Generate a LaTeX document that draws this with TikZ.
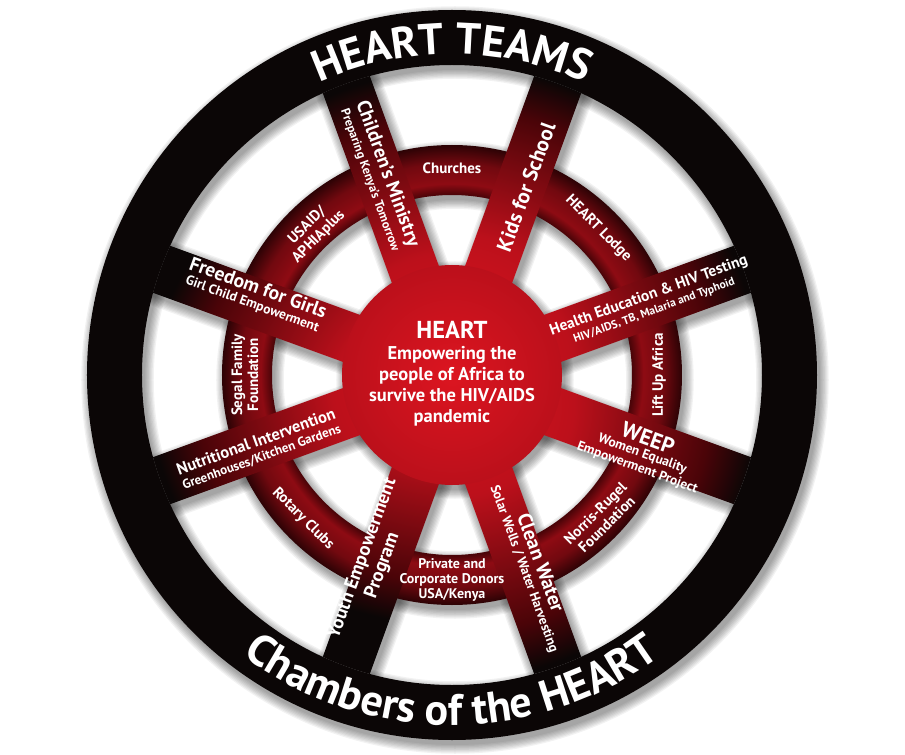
\documentclass[tikz,border=0pt]{standalone}
\usepackage{fontspec}
\setmainfont{PT Sans}
\usepackage{xcolor}
\definecolor{hubRed}{HTML}{DC1520}
\definecolor{spokeRed}{HTML}{BC101B}
\definecolor{ringRed}{HTML}{8E0B13}
\definecolor{deepRed}{HTML}{4A0408}
\definecolor{rimBlack}{HTML}{0B0606}
\usepackage{tikz}
\usetikzlibrary{decorations.text}

% 25bp of a shading = half the size of the shaded path
\pgfdeclareradialshading{heartglow}{\pgfpoint{0bp}{0bp}}{%
  color(0bp)=(hubRed); color(8.7bp)=(spokeRed); color(14.5bp)=(ringRed!85!black);
  color(18.5bp)=(deepRed); color(21.8bp)=(rimBlack); color(50bp)=(rimBlack)}
\pgfdeclareradialshading{ringglow}{\pgfpoint{0bp}{0bp}}{%
  color(0bp)=(ringRed); color(19.6bp)=(deepRed); color(20.8bp)=(ringRed);
  color(23bp)=(ringRed!80!black); color(25bp)=(deepRed!60!black); color(50bp)=(deepRed!60!black)}

\newcommand\hrBig[1]{\fontsize{#1}{#1}\selectfont}

\begin{document}
\begin{tikzpicture}[x=1pt, y=1pt,
    every node/.style={text=white, font=\bfseries},
    spoke/.style={align=center, inner sep=0pt},
    ringlbl/.style={align=center, inner sep=0pt, font=\bfseries\fontsize{15}{16}\selectfont},
    hubtxt/.style={align=center, inner sep=0pt, font=\bfseries\fontsize{18.5}{21}\selectfont},
    glow/.style={shading=heartglow},
    softshade/.style={black, opacity=0.05},
    rimtext/.style={decorate, decoration={text along path, text align=center,
                    text={|\fontsize{44}{44}\selectfont\bfseries\color{white}|#1}}}]
  \useasboundingbox (-452,-380) rectangle (453,375);
  \fill[white] (-452,-380) rectangle (453,375);

  % soft shadow under the wheel
  \begin{scope}[shift={(3,-5)}]
    \foreach \k in {0,...,7} {
      \draw[softshade, line width={(55+2.5*\k)*1pt}] (0,0) circle (337.5);
      \draw[softshade, line width={(50+2.5*\k)*1pt}] (0,0) circle (205);
      \foreach \ang in {20,70,110,160}
        \draw[softshade, line width={(50+2.5*\k)*1pt}] (\ang:-320) -- (\ang:320);
      \fill[softshade] (0,0) circle ({110+1.25*\k});
    }
  \end{scope}

  % red ring, spokes and hub
  \shade[shading=ringglow, even odd rule] (0,0) circle (230) (0,0) circle (180);
  \foreach \ang in {20,70,110,160} {
    \begin{scope}[rotate=\ang]
      \clip (-312,-25) rectangle (312,25);
      \shade[glow] (0,0) circle (310);
    \end{scope}
  }
  \begin{scope}
    \clip (0,0) circle (110);
    \shade[glow] (0,0) circle (310);
  \end{scope}

  % outer rim
  \fill[rimBlack, even odd rule] (0,0) circle (365) (0,0) circle (310);
  \path[rimtext={HEART TEAMS}] (125:321) arc[start angle=125, end angle=55, radius=321];
  \path[rimtext={Chambers of the HEART}] (210:350) arc[start angle=210, end angle=330, radius=350];

  % hub
  \node[hubtxt] (hub) at (0,1) {\hrBig{24.5}HEART\\Empowering the\\people of Africa to\\survive the HIV/AIDS\\pandemic};

  % spoke labels
  \node[spoke, rotate=-70] (childMin) at (110:211)
    {\hrBig{19.5}Children’s Ministry\\[3pt]\hrBig{12.5}Preparing Kenya’s Tomorrow};
  \node[spoke, rotate=70] (kidsSchool) at (68.5:202)
    {\hrBig{21}Kids for School};
  \node[spoke, rotate=20] (healthEd) at (20:212)
    {\hrBig{15.5}Health Education \& HIV Testing\\[3pt]\hrBig{11.5}HIV/AIDS, TB, Malaria and Typhoid};
  \node[spoke, rotate=-20] (freedom) at (158:212)
    {\hrBig{19.5}Freedom for Girls\\[3pt]\hrBig{13.5}Girl Child Empowerment};
  \node[spoke, rotate=20] (nutrition) at (201:207)
    {\hrBig{16.5}Nutritional Intervention\\[3pt]\hrBig{13}Greenhouses/Kitchen Gardens};
  \node[spoke, rotate=-20] (weep) at (338:206)
    {\hrBig{22}WEEP\\[1pt]\hrBig{13.5}Women Equality\\[1.5pt]\hrBig{13.5}Empowerment Project};
  \node[spoke, rotate=70] (youth) at (247:203)
    {\hrBig{19}Youth Empowerment\\[3pt]\hrBig{19}Program};
  \node[spoke, rotate=-70] (cleanWater) at (293:207)
    {\hrBig{20}Clean Water\\[3pt]\hrBig{13.5}Solar Wells / Water Harvesting};

  % ring labels
  \node[ringlbl] (churches) at (90:207) {Churches};
  \node[ringlbl, rotate=-45] (lodge) at (45:207) {HEART Lodge};
  \node[ringlbl, rotate=90] (liftUp) at (0:207) {Lift Up Africa};
  \node[ringlbl, rotate=45] (norris) at (-44:207) {Norris-Rugel\\Foundation};
  \node[ringlbl, font=\bfseries\fontsize{14}{15}\selectfont] (donors) at (270:205) {Private and\\Corporate Donors\\USA/Kenya};
  \node[ringlbl, rotate=-45] (rotary) at (224:207) {Rotary Clubs};
  \node[ringlbl, rotate=90] (segal) at (180:207) {Segal Family\\Foundation};
  \node[ringlbl, rotate=45] (usaid) at (134:200) {USAID/\\APHIAplus};
\end{tikzpicture}
\end{document}
